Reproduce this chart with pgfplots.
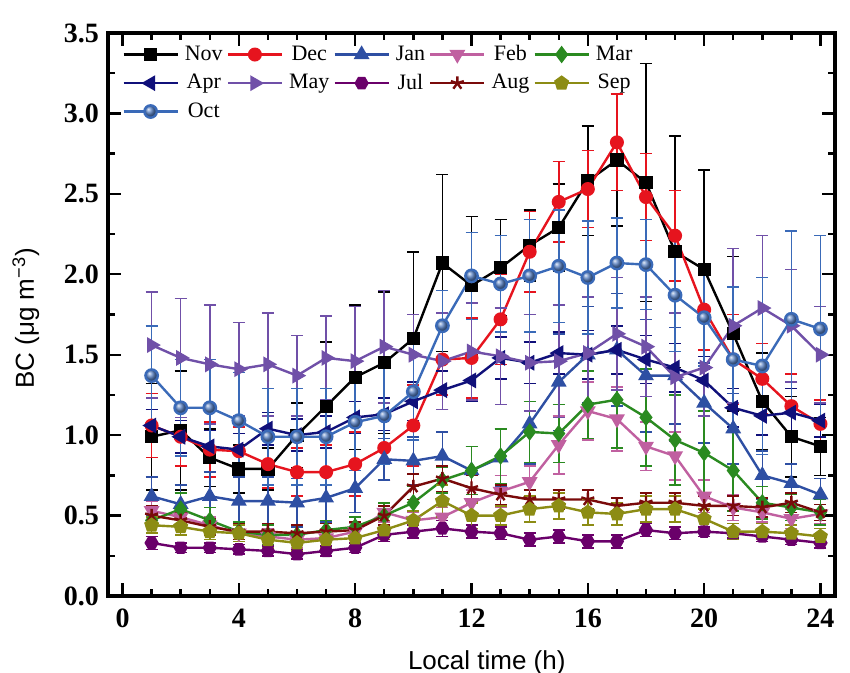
\documentclass[border=0pt]{standalone}
\usepackage{fontspec}
\setmainfont{Liberation Serif}
\setsansfont{Liberation Sans}
\usepackage{pgfplots}
\usepackage{pgfplotstable}
\pgfplotsset{compat=1.18}

\definecolor{cnov}{HTML}{000000}
\definecolor{cdec}{HTML}{E6141E}
\definecolor{cjan}{HTML}{2E4FA3}
\definecolor{cfeb}{HTML}{C060A0}
\definecolor{cmar}{HTML}{2A8A20}
\definecolor{capr}{HTML}{10107A}
\definecolor{cmay}{HTML}{7050A8}
\definecolor{cjul}{HTML}{6A006A}
\definecolor{caug}{HTML}{7A0A0A}
\definecolor{csep}{HTML}{8C8C14}
\definecolor{coct}{HTML}{3A6AB8}

\pgfdeclareplotmark{hexagon*}{%
  \pgfpathmoveto{\pgfpointpolar{0}{\pgfplotmarksize}}%
  \pgfpathlineto{\pgfpointpolar{60}{\pgfplotmarksize}}%
  \pgfpathlineto{\pgfpointpolar{120}{\pgfplotmarksize}}%
  \pgfpathlineto{\pgfpointpolar{180}{\pgfplotmarksize}}%
  \pgfpathlineto{\pgfpointpolar{240}{\pgfplotmarksize}}%
  \pgfpathlineto{\pgfpointpolar{300}{\pgfplotmarksize}}%
  \pgfpathclose
  \pgfusepathqfillstroke}

\pgfplotstableread{
h nov novE dec decE jan janE feb febE mar marE apr aprE may mayE jul julE aug augE sep sepE oct octE
1  0.99 0.33 1.06 0.20 0.62 0.12 0.53 0.06 0.47 0.08 1.06 0.10 1.56 0.33 0.33 0.04 0.50 0.06 0.44 0.05 1.37 0.31
2  1.03 0.37 0.99 0.18 0.57 0.12 0.49 0.06 0.54 0.10 0.99 0.10 1.48 0.37 0.30 0.03 0.47 0.05 0.43 0.05 1.17 0.30
3  0.86 0.18 0.91 0.17 0.62 0.15 0.44 0.05 0.47 0.08 0.93 0.10 1.44 0.37 0.30 0.03 0.43 0.05 0.40 0.05 1.17 0.30
4  0.79 0.15 0.90 0.15 0.59 0.15 0.39 0.05 0.40 0.06 0.91 0.10 1.41 0.29 0.29 0.03 0.40 0.05 0.39 0.05 1.09 0.30
5  0.79 0.13 0.82 0.15 0.59 0.15 0.37 0.05 0.38 0.06 1.04 0.10 1.44 0.32 0.28 0.03 0.40 0.05 0.35 0.05 0.99 0.30
6  1.00 0.20 0.77 0.15 0.58 0.15 0.35 0.05 0.38 0.06 1.00 0.10 1.37 0.25 0.26 0.03 0.39 0.05 0.33 0.05 0.99 0.30
7  1.18 0.40 0.77 0.17 0.61 0.15 0.36 0.05 0.41 0.06 1.02 0.10 1.48 0.26 0.28 0.03 0.40 0.05 0.35 0.05 0.99 0.30
8  1.36 0.45 0.82 0.20 0.67 0.15 0.40 0.05 0.43 0.06 1.11 0.10 1.46 0.34 0.30 0.03 0.41 0.05 0.36 0.05 1.08 0.30
9  1.45 0.44 0.92 0.20 0.85 0.13 0.52 0.06 0.50 0.08 1.13 0.10 1.55 0.35 0.38 0.04 0.50 0.06 0.41 0.06 1.12 0.30
10 1.60 0.54 1.06 0.25 0.84 0.15 0.47 0.05 0.58 0.10 1.21 0.12 1.50 0.25 0.40 0.04 0.68 0.08 0.47 0.06 1.27 0.30
11 2.07 0.55 1.47 0.22 0.87 0.15 0.49 0.06 0.72 0.08 1.28 0.12 1.46 0.30 0.42 0.05 0.73 0.08 0.59 0.10 1.68 0.22
12 1.93 0.43 1.48 0.25 0.78 0.15 0.58 0.08 0.78 0.15 1.34 0.13 1.52 0.30 0.40 0.04 0.67 0.08 0.50 0.08 1.99 0.27
13 2.04 0.30 1.72 0.28 0.86 0.18 0.65 0.10 0.87 0.17 1.48 0.13 1.49 0.30 0.39 0.04 0.63 0.06 0.50 0.06 1.94 0.30
14 2.18 0.22 2.14 0.25 1.07 0.25 0.71 0.10 1.02 0.19 1.45 0.13 1.45 0.30 0.35 0.04 0.60 0.06 0.54 0.08 1.99 0.35
15 2.29 0.27 2.45 0.25 1.33 0.30 0.94 0.18 1.01 0.18 1.51 0.13 1.46 0.35 0.37 0.04 0.60 0.06 0.56 0.08 2.05 0.35
16 2.58 0.34 2.53 0.24 1.50 0.30 1.15 0.18 1.19 0.21 1.50 0.15 1.51 0.35 0.34 0.04 0.60 0.06 0.52 0.08 1.98 0.35
17 2.71 0.41 2.82 0.30 1.53 0.35 1.10 0.20 1.22 0.30 1.53 0.15 1.63 0.35 0.34 0.04 0.56 0.05 0.51 0.07 2.07 0.28
18 2.57 0.74 2.48 0.27 1.37 0.35 0.93 0.15 1.11 0.30 1.47 0.15 1.55 0.31 0.41 0.04 0.58 0.06 0.54 0.08 2.06 0.28
19 2.14 0.72 2.24 0.28 1.37 0.30 0.87 0.15 0.97 0.28 1.42 0.15 1.36 0.40 0.39 0.04 0.58 0.06 0.54 0.08 1.87 0.35
20 2.03 0.62 1.78 0.25 1.20 0.25 0.62 0.10 0.89 0.26 1.34 0.15 1.42 0.30 0.40 0.03 0.56 0.06 0.48 0.06 1.73 0.30
21 1.63 0.48 1.47 0.28 1.04 0.22 0.55 0.08 0.78 0.25 1.17 0.12 1.68 0.48 0.39 0.03 0.56 0.06 0.40 0.05 1.47 0.45
22 1.21 0.30 1.35 0.22 0.75 0.15 0.52 0.06 0.58 0.10 1.12 0.12 1.79 0.45 0.37 0.03 0.55 0.06 0.40 0.05 1.43 0.55
23 0.99 0.25 1.18 0.20 0.70 0.12 0.48 0.06 0.55 0.08 1.14 0.15 1.68 0.35 0.35 0.03 0.58 0.06 0.39 0.05 1.72 0.55
24 0.93 0.18 1.07 0.15 0.63 0.10 0.51 0.06 0.52 0.08 1.09 0.10 1.50 0.30 0.33 0.03 0.52 0.05 0.37 0.05 1.66 0.58
}\datatable

\pgfplotsset{
  ser/.style={line width=1.2pt, mark size=2.9pt,
    error bars/y dir=both, error bars/y explicit,
    error bars/error bar style={line width=0.8pt, solid},
    error bars/error mark options={rotate=90, line width=0.8pt, mark size=3pt, solid}},
}

\begin{document}
\begin{tikzpicture}
\begin{axis}[
  scale only axis,
  width=363.5pt, height=281.5pt,
  xmin=-0.5, xmax=24.5, ymin=0, ymax=3.5,
  xtick={0,4,...,24}, minor xtick={0,1,...,24},
  ytick={0,0.5,...,3.5}, minor ytick={0.25,0.75,...,3.25},
  tick align=inside,
  axis line style={line width=1.6pt},
  every tick/.style={line width=1.2pt, black},
  major tick length=6.5pt, minor tick length=3.5pt,
  /pgf/number format/assume math mode=true,
  ticklabel style={font=\fontsize{14}{14}\selectfont\bfseries},
  yticklabel style={/pgf/number format/fixed, /pgf/number format/fixed zerofill, /pgf/number format/precision=1, xshift=-1pt},
  xticklabel style={yshift=-3pt},
  xlabel={Local time (h)},
  ylabel={BC (μg m\textsuperscript{−3})},
  label style={font=\sffamily\fontsize{13}{13}\selectfont},
  xlabel style={at={(axis description cs:0.521,0)}, anchor=base, yshift=-37pt},
  ylabel style={at={(axis description cs:-0.113,0.493)}, anchor=center},
  legend columns=5,
  legend style={draw=none, fill=none, at={(axis description cs:0,1)}, anchor=north west,
    xshift=4pt, yshift=-2pt,
    font=\fontsize{11}{11}\selectfont,
    /tikz/every even column/.append style={column sep=0pt},
    /tikz/every odd column/.append style={column sep=1pt},
    row sep=1.2pt, nodes={inner sep=2pt}},
  legend image code/.code={\draw[mark repeat=2,mark phase=2] plot coordinates {(0pt,0pt)(13.5pt,0pt)(27pt,0pt)};},
]
\addplot[ser, color=cnov, mark=square*, mark size=2.7pt] table[x=h, y=nov, y error=novE] {\datatable};
\addplot[ser, color=cdec, mark=*] table[x=h, y=dec, y error=decE] {\datatable};
\addplot[ser, color=cjan, mark=triangle*, mark size=3.4pt] table[x=h, y=jan, y error=janE] {\datatable};
\addplot[ser, color=cfeb, mark=triangle*, mark size=3.4pt, mark options={rotate=180}] table[x=h, y=feb, y error=febE] {\datatable};
\addplot[ser, color=cmar, mark=diamond*, mark size=3.4pt] table[x=h, y=mar, y error=marE] {\datatable};
\addplot[ser, color=capr, mark=triangle*, mark size=3.4pt, mark options={rotate=90}] table[x=h, y=apr, y error=aprE] {\datatable};
\addplot[ser, color=cmay, mark=triangle*, mark size=3.4pt, mark options={rotate=-90}] table[x=h, y=may, y error=mayE] {\datatable};
\addplot[ser, color=cjul, mark=hexagon*] table[x=h, y=jul, y error=julE] {\datatable};
\addplot[ser, color=caug, mark=star, mark size=3.4pt] table[x=h, y=aug, y error=augE] {\datatable};
\addplot[ser, color=csep, mark=pentagon*, mark size=3.2pt] table[x=h, y=sep, y error=sepE] {\datatable};
\addplot[ser, color=coct, mark=ball, mark options={ball color=coct!85!white}, mark size=3.1pt] table[x=h, y=oct, y error=octE] {\datatable};
\legend{Nov,Dec,Jan,Feb,Mar,Apr,May,Jul,Aug,Sep,Oct}
\end{axis}
\pgfresetboundingbox
\path[use as bounding box] ([xshift=-54pt,yshift=-38.5pt]current axis.south west) rectangle ([xshift=7.5pt,yshift=16.5pt]current axis.north east);
\end{tikzpicture}
\end{document}
